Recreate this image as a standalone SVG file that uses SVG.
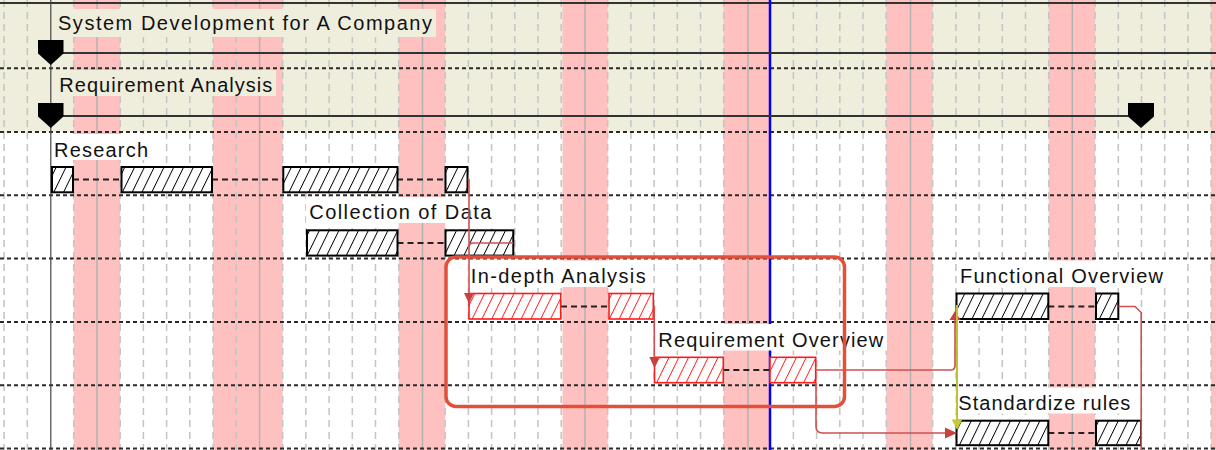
<svg xmlns="http://www.w3.org/2000/svg" width="1216" height="450" viewBox="0 0 1216 450">
<defs>
<pattern id="hk" patternUnits="userSpaceOnUse" width="9.8" height="9.8" patternTransform="skewX(-26)"><rect width="9.8" height="9.8" fill="#fff"/><line x1="0.5" y1="0" x2="0.5" y2="9.8" stroke="#000" stroke-width="1.1"/></pattern>
<pattern id="hr" patternUnits="userSpaceOnUse" width="9.8" height="9.8" patternTransform="skewX(-26)"><rect width="9.8" height="9.8" fill="#fff"/><line x1="0.5" y1="0" x2="0.5" y2="9.8" stroke="#ff2020" stroke-width="1.1"/></pattern>
<style>
.lbl{font-family:"Liberation Sans",Arial,sans-serif;font-size:20px;fill:#111;}
.lbgB{fill:#efeedc;}
.lbgW{fill:#fff;}
.bk{fill:url(#hk);stroke:#000;stroke-width:2;}
.rd{fill:url(#hr);stroke:#ff1a1a;stroke-width:1.6;}
.dl{stroke:#222;stroke-width:2;stroke-dasharray:6 4;fill:none;}
.sep{stroke:#2a2a2a;stroke-width:2;stroke-dasharray:4 3;fill:none;}
.day{stroke:#c4c4c4;stroke-width:1.5;stroke-dasharray:7 5;fill:none;}
.wk{stroke:#b2b2b2;stroke-width:1.5;fill:none;}
.cn{stroke:#d05050;stroke-width:1.6;fill:none;}
.ah{fill:#c84040;}
.ms{fill:#000;}
</style>
</defs>

<g id="background">
<rect x="0" y="0" width="1216" height="450" fill="#fff"/>
<rect x="0" y="0" width="1216" height="132" fill="#efeedc"/>
<g fill="#ffc0c0">
<rect x="73.7" y="0" width="46.5" height="450"/>
<rect x="213" y="0" width="69.7" height="450"/>
<rect x="398.7" y="0" width="46.5" height="450"/>
<rect x="562.5" y="0" width="45.2" height="450"/>
<rect x="723.7" y="0" width="46.5" height="450"/>
<rect x="886.2" y="0" width="46.4" height="450"/>
<rect x="1048.7" y="0" width="46.4" height="450"/>
<rect x="1211.1" y="0" width="5" height="450"/>
</g>
<path class="day" d="M4.1 0V450M27.3 0V450M73.7 0V450M120.2 0V450M143.4 0V450M166.6 0V450M189.8 0V450M213 0V450M236.2 0V450M282.7 0V450M305.9 0V450M329.1 0V450M352.3 0V450M375.5 0V450M398.7 0V450M445.2 0V450M468.4 0V450M491.6 0V450M514.8 0V450M538 0V450M561.2 0V450M607.7 0V450M630.9 0V450M654.1 0V450M677.3 0V450M700.5 0V450M723.7 0V450M793.4 0V450M816.6 0V450M839.8 0V450M863 0V450M886.2 0V450M932.6 0V450M955.9 0V450M979.1 0V450M1002.3 0V450M1025.5 0V450M1048.7 0V450M1095.1 0V450M1118.3 0V450M1141.5 0V450M1164.7 0V450M1187.9 0V450M1211.1 0V450"/>
<path class="wk" d="M97 0V450M259.6 0V450M422.5 0V450M585 0V450M748 0V450M910.5 0V450M1072.3 0V450"/>
<path d="M0 3H1216" stroke="#333" stroke-width="2"/>
<path class="sep" d="M0 68.3H1216M0 132H1216M0 195.3H1216M0 258.6H1216M0 321.9H1216M0 385.2H1216M0 448.6H1216"/>
<path d="M770 0V450" stroke="#0000ff" stroke-width="2.5"/>
<path d="M50.8 0V450" stroke="#444" stroke-width="1.2"/>
</g>

<g id="n-system">
<rect class="lbgB" x="55" y="9" width="381" height="28"/>
<text class="lbl" x="58" y="29.5" textLength="374" lengthAdjust="spacing">System Development for A Company</text>
<path d="M63 53H1216" stroke="#333" stroke-width="2"/>
<polygon class="ms" points="38,40 63.5,40 63.5,53.5 50.8,65 38,53.5"/>
</g>

<g id="n-reqanalysis">
<rect class="lbgB" x="56" y="70" width="220" height="26"/>
<text class="lbl" x="59.3" y="92.3" textLength="213" lengthAdjust="spacing">Requirement Analysis</text>
<path d="M63 116H1128" stroke="#333" stroke-width="2"/>
<polygon class="ms" points="38,103 63.5,103 63.5,116.5 50.8,128 38,116.5"/>
<polygon class="ms" points="1128,103 1154,103 1154,116.5 1141,128 1128,116.5"/>
</g>

<g id="n-research">
<rect class="lbgW" x="52" y="134" width="99" height="26"/>
<text class="lbl" x="54" y="156.5" textLength="94" lengthAdjust="spacing">Research</text>
<path class="dl" d="M73 179.5H121M212 179.5H283M397 179.5H445"/>
<rect class="bk" x="52" y="167" width="21" height="25.3"/>
<rect class="bk" x="121.5" y="167" width="90.5" height="25.3"/>
<rect class="bk" x="283.3" y="167" width="114.2" height="25.3"/>
<rect class="bk" x="445.5" y="167" width="22" height="25.3"/>
</g>

<g id="n-collection">
<rect class="lbgW" x="306" y="197" width="189" height="26"/>
<text class="lbl" x="309.3" y="219.3" textLength="182" lengthAdjust="spacing">Collection of Data</text>
<path class="dl" d="M397.5 243H445.5"/>
<rect class="bk" x="307" y="230.3" width="90.5" height="25.3"/>
<rect class="bk" x="445.5" y="230.3" width="67.8" height="25.3"/>
</g>

<g id="n-indepth">
<rect class="lbgW" x="468" y="260.5" width="181" height="26.5"/>
<text class="lbl" x="470.7" y="283.3" textLength="175" lengthAdjust="spacing">In-depth Analysis</text>
<path class="dl" d="M561 306.5H609"/>
<rect class="rd" x="469" y="293.5" width="91.7" height="25.5"/>
<rect class="rd" x="609" y="293.5" width="44.3" height="25.5"/>
</g>

<g id="n-reqoverview">
<rect class="lbgW" x="656" y="324" width="231" height="26.5"/>
<text class="lbl" x="658.3" y="346.7" textLength="225" lengthAdjust="spacing">Requirement Overview</text>
<path class="dl" d="M723.3 370H770"/>
<rect class="rd" x="654.5" y="357.3" width="68.8" height="25.4"/>
<rect class="rd" x="770" y="357.3" width="45.7" height="25.4"/>
</g>

<g id="n-functional">
<rect class="lbgW" x="957" y="260.5" width="209" height="26.5"/>
<text class="lbl" x="960" y="283.3" textLength="203" lengthAdjust="spacing">Functional Overview</text>
<path class="dl" d="M1048.3 306.5H1096"/>
<rect class="bk" x="956.5" y="293.5" width="91.8" height="25.5"/>
<rect class="bk" x="1096" y="293.5" width="22.3" height="25.5"/>
</g>

<g id="n-standardize">
<rect class="lbgW" x="955.5" y="387.5" width="178" height="26"/>
<text class="lbl" x="958.3" y="410" textLength="172" lengthAdjust="spacing">Standardize rules</text>
<path class="dl" d="M1048.3 433H1096"/>
<rect class="bk" x="956.5" y="420.7" width="91.8" height="24.5"/>
<rect class="bk" x="1096" y="420.7" width="45" height="24.5"/>
</g>

<g id="connectors">
<path class="cn" d="M467.5 179.5H469V294"/>
<path class="cn" d="M513.3 243H473.5Q469 243 469 247.5"/>
<polygon class="ah" points="464,293 474,293 469,303.5"/>
<path class="cn" d="M653.3 306.5H654.3V358"/>
<polygon class="ah" points="649.3,357 659.3,357 654.3,367.5"/>
<path class="cn" d="M815.7 370H950.5Q955 370 955 365.5V320"/>
<polygon class="ah" points="949.5,320 960.5,320 955,311"/>
<path class="cn" d="M816 382.7V426.5Q816 433 822.5 433H946"/>
<polygon class="ah" points="945,427.5 945,438.5 957,433"/>
<path class="cn" d="M1118.3 306.5H1135L1141.2 312.5V450"/>
<path d="M957 305V421" stroke="#c0c030" stroke-width="2" fill="none"/>
<polygon points="951.7,419.5 962.3,419.5 957,430" fill="#c8c83c"/>
</g>

<g id="highlight">
<rect x="446" y="257" width="398.5" height="149.5" rx="10" ry="10" fill="none" stroke="#e2503c" stroke-width="3.5"/>
</g>
</svg>
